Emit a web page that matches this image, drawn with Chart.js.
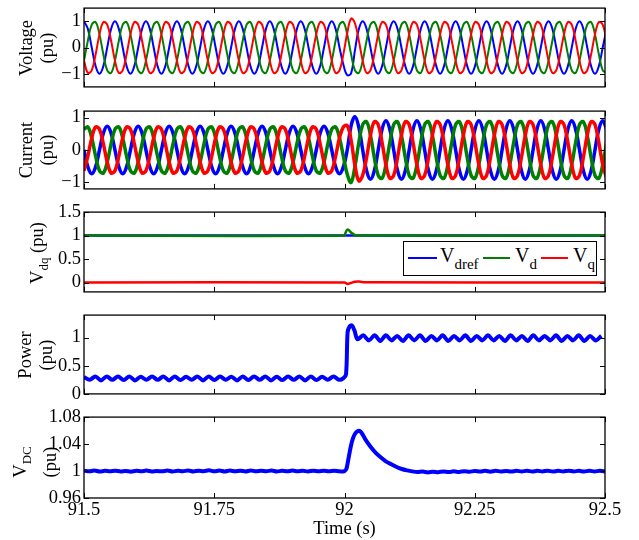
<!DOCTYPE html>
<html>
<head>
<meta charset="utf-8">
<script src="https://cdn.jsdelivr.net/npm/chart.js@4.4.0/dist/chart.umd.min.js"></script>
<style>
  body { margin: 0; background: #fff; }
  #wrap { position: relative; width: 639px; height: 540px; overflow: hidden; font-family: 'Liberation Serif', 'Times New Roman', serif; color: #000; }
  #wrap canvas { position: absolute; left: 0; }
  .ylab { position: absolute; transform: translate(-50%, -50%) rotate(-90deg); white-space: nowrap; text-align: center; font-size: 18.5px; line-height: 21px; }
  .ylab sub { font-size: 13px; vertical-align: baseline; position: relative; top: 5px; }
  #legend { position: absolute; left: 403px; top: 241px; width: 192px; height: 33px; border: 1px solid #000; background: #fff; }
  #legend .ln { position: absolute; top: 15px; height: 0; border-top: 2px solid; }
  #legend .tx { position: absolute; top: 3px; font-size: 20px; line-height: 20px; white-space: nowrap; }
  #legend .tx sub { font-size: 15px; vertical-align: baseline; position: relative; top: 7px; }
</style>
</head>
<body>
<div id="wrap">
  <canvas id="cVolt" width="639" height="107" style="top:-6px"></canvas>
  <canvas id="cCur" width="639" height="106" style="top:97px"></canvas>
  <canvas id="cVdq" width="639" height="108" style="top:198px"></canvas>
  <canvas id="cPow" width="639" height="107" style="top:301px"></canvas>
  <canvas id="cVdc" width="639" height="137" style="top:403px"></canvas>

  <div class="ylab" style="left:37px; top:48px">Voltage<br>(pu)</div>
  <div class="ylab" style="left:37px; top:150px">Current<br>(pu)</div>
  <div class="ylab" style="left:38px; top:253px">V<sub>dq</sub> (pu)</div>
  <div class="ylab" style="left:36px; top:355px">Power<br>(pu)</div>
  <div class="ylab" style="left:35px; top:462px; line-height:29px">V<sub>DC</sub><br>(pu)</div>

  <div id="legend">
    <span class="ln" style="left:4px; width:29px; border-color:#0000ff"></span>
    <span class="tx" style="left:36px">V<sub>dref</sub></span>
    <span class="ln" style="left:79px; width:27px; border-color:#008000"></span>
    <span class="tx" style="left:111px">V<sub>d</sub></span>
    <span class="ln" style="left:137px; width:27px; border-color:#ff0000"></span>
    <span class="tx" style="left:169px">V<sub>q</sub></span>
  </div>
</div>
<script>
// eixo do tempo
const timeTicks = [91.5, 91.75, 92, 92.25, 92.5];
const WAVE_T0 = 91.5;
const WAVE_DT = 0.00743;   // passo de amostragem das ondas (1/8 de ciclo)

// tensões trifásicas (pu), uma linha por ciclo
const voltA = [
  1, 0.71, 0, -0.71, -1, -0.71, 0, 0.71,
  1, 0.71, 0, -0.71, -1, -0.71, 0, 0.71,
  1, 0.71, 0, -0.71, -1, -0.71, 0, 0.71,
  1, 0.71, 0, -0.71, -1, -0.71, 0, 0.71,
  1, 0.71, 0, -0.71, -1, -0.71, 0, 0.71,
  1, 0.71, 0, -0.71, -1, -0.71, 0, 0.71,
  1, 0.71, 0, -0.71, -1, -0.71, 0, 0.71,
  1, 0.71, 0, -0.71, -1, -0.71, 0, 0.71,
  1, 0.71, 0, -0.65, -1.05, -0.98, -0.1, 0.7,
  1, 0.71, 0, -0.71, -1, -0.71, 0, 0.71,
  1, 0.71, 0, -0.71, -1, -0.71, 0, 0.71,
  1, 0.71, 0, -0.71, -1, -0.71, 0, 0.71,
  1, 0.71, 0, -0.71, -1, -0.71, 0, 0.71,
  1, 0.71, 0, -0.71, -1, -0.71, 0, 0.71,
  1, 0.71, 0, -0.71, -1, -0.71, 0, 0.71,
  1, 0.71, 0, -0.71, -1, -0.71, 0, 0.71,
  1, 0.71, 0, -0.71, -1, -0.71, 0, 0.71
];
const voltB = [
  -0.5, 0.26, 0.87, 0.97, 0.5, -0.26, -0.87, -0.97,
  -0.5, 0.26, 0.87, 0.97, 0.5, -0.26, -0.87, -0.97,
  -0.5, 0.26, 0.87, 0.97, 0.5, -0.26, -0.87, -0.97,
  -0.5, 0.26, 0.87, 0.97, 0.5, -0.26, -0.87, -0.97,
  -0.5, 0.26, 0.87, 0.97, 0.5, -0.26, -0.87, -0.97,
  -0.5, 0.26, 0.87, 0.97, 0.5, -0.26, -0.87, -0.97,
  -0.5, 0.26, 0.87, 0.97, 0.5, -0.26, -0.87, -0.97,
  -0.5, 0.26, 0.87, 0.97, 0.5, -0.26, -0.87, -0.97,
  -0.5, 0.26, 0.87, 0.97, 0.5, -0.26, -0.87, -0.97,
  -0.5, 0.26, 0.87, 0.97, 0.5, -0.26, -0.87, -0.97,
  -0.5, 0.26, 0.87, 0.97, 0.5, -0.26, -0.87, -0.97,
  -0.5, 0.26, 0.87, 0.97, 0.5, -0.26, -0.87, -0.97,
  -0.5, 0.26, 0.87, 0.97, 0.5, -0.26, -0.87, -0.97,
  -0.5, 0.26, 0.87, 0.97, 0.5, -0.26, -0.87, -0.97,
  -0.5, 0.26, 0.87, 0.97, 0.5, -0.26, -0.87, -0.97,
  -0.5, 0.26, 0.87, 0.97, 0.5, -0.26, -0.87, -0.97,
  -0.5, 0.26, 0.87, 0.97, 0.5, -0.26, -0.87, -0.97
];
const voltC = [
  -0.5, -0.97, -0.87, -0.26, 0.5, 0.97, 0.87, 0.26,
  -0.5, -0.97, -0.87, -0.26, 0.5, 0.97, 0.87, 0.26,
  -0.5, -0.97, -0.87, -0.26, 0.5, 0.97, 0.87, 0.26,
  -0.5, -0.97, -0.87, -0.26, 0.5, 0.97, 0.87, 0.26,
  -0.5, -0.97, -0.87, -0.26, 0.5, 0.97, 0.87, 0.26,
  -0.5, -0.97, -0.87, -0.26, 0.5, 0.97, 0.87, 0.26,
  -0.5, -0.97, -0.87, -0.26, 0.5, 0.97, 0.87, 0.26,
  -0.5, -0.97, -0.87, -0.26, 0.5, 0.97, 0.87, 0.26,
  -0.5, -0.97, -0.87, -0.26, 0.55, 1.1, 0.92, 0.26,
  -0.5, -0.97, -0.87, -0.26, 0.5, 0.97, 0.87, 0.26,
  -0.5, -0.97, -0.87, -0.26, 0.5, 0.97, 0.87, 0.26,
  -0.5, -0.97, -0.87, -0.26, 0.5, 0.97, 0.87, 0.26,
  -0.5, -0.97, -0.87, -0.26, 0.5, 0.97, 0.87, 0.26,
  -0.5, -0.97, -0.87, -0.26, 0.5, 0.97, 0.87, 0.26,
  -0.5, -0.97, -0.87, -0.26, 0.5, 0.97, 0.87, 0.26,
  -0.5, -0.97, -0.87, -0.26, 0.5, 0.97, 0.87, 0.26,
  -0.5, -0.97, -0.87, -0.26, 0.5, 0.97, 0.87, 0.26
];

// correntes trifásicas (pu): amplitude sobe em 92 s
const curA = [
  0, -0.52, -0.73, -0.52, 0, 0.52, 0.73, 0.52,
  0, -0.52, -0.73, -0.52, 0, 0.52, 0.73, 0.52,
  0, -0.52, -0.73, -0.52, 0, 0.52, 0.73, 0.52,
  0, -0.52, -0.73, -0.52, 0, 0.52, 0.73, 0.52,
  0, -0.52, -0.73, -0.52, 0, 0.52, 0.73, 0.52,
  0, -0.52, -0.73, -0.52, 0, 0.52, 0.73, 0.52,
  0, -0.52, -0.73, -0.52, 0, 0.52, 0.73, 0.52,
  0, -0.52, -0.73, -0.52, 0, 0.52, 0.73, 0.52,
  0, -0.52, -0.73, -0.52, 0, 0.75, 1.03, 0.7,
  0, -0.64, -0.9, -0.64, 0, 0.64, 0.9, 0.64,
  0, -0.64, -0.9, -0.64, 0, 0.64, 0.9, 0.64,
  0, -0.64, -0.9, -0.64, 0, 0.64, 0.9, 0.64,
  0, -0.64, -0.9, -0.64, 0, 0.64, 0.9, 0.64,
  0, -0.64, -0.9, -0.64, 0, 0.64, 0.9, 0.64,
  0, -0.64, -0.9, -0.64, 0, 0.64, 0.9, 0.64,
  0, -0.64, -0.9, -0.64, 0, 0.64, 0.9, 0.64,
  0, -0.64, -0.9, -0.64, 0, 0.64, 0.9, 0.64
];
const curB = [
  0.64, 0.71, 0.37, -0.19, -0.64, -0.71, -0.37, 0.19,
  0.64, 0.71, 0.37, -0.19, -0.64, -0.71, -0.37, 0.19,
  0.64, 0.71, 0.37, -0.19, -0.64, -0.71, -0.37, 0.19,
  0.64, 0.71, 0.37, -0.19, -0.64, -0.71, -0.37, 0.19,
  0.64, 0.71, 0.37, -0.19, -0.64, -0.71, -0.37, 0.19,
  0.64, 0.71, 0.37, -0.19, -0.64, -0.71, -0.37, 0.19,
  0.64, 0.71, 0.37, -0.19, -0.64, -0.71, -0.37, 0.19,
  0.64, 0.71, 0.37, -0.19, -0.64, -0.71, -0.37, 0.19,
  0.64, 0.71, 0.37, -0.19, -0.75, -1.0, -0.5, 0.23,
  0.78, 0.87, 0.45, -0.23, -0.78, -0.87, -0.45, 0.23,
  0.78, 0.87, 0.45, -0.23, -0.78, -0.87, -0.45, 0.23,
  0.78, 0.87, 0.45, -0.23, -0.78, -0.87, -0.45, 0.23,
  0.78, 0.87, 0.45, -0.23, -0.78, -0.87, -0.45, 0.23,
  0.78, 0.87, 0.45, -0.23, -0.78, -0.87, -0.45, 0.23,
  0.78, 0.87, 0.45, -0.23, -0.78, -0.87, -0.45, 0.23,
  0.78, 0.87, 0.45, -0.23, -0.78, -0.87, -0.45, 0.23,
  0.78, 0.87, 0.45, -0.23, -0.78, -0.87, -0.45, 0.23
];
const curC = [
  -0.64, -0.19, 0.37, 0.71, 0.64, 0.19, -0.37, -0.71,
  -0.64, -0.19, 0.37, 0.71, 0.64, 0.19, -0.37, -0.71,
  -0.64, -0.19, 0.37, 0.71, 0.64, 0.19, -0.37, -0.71,
  -0.64, -0.19, 0.37, 0.71, 0.64, 0.19, -0.37, -0.71,
  -0.64, -0.19, 0.37, 0.71, 0.64, 0.19, -0.37, -0.71,
  -0.64, -0.19, 0.37, 0.71, 0.64, 0.19, -0.37, -0.71,
  -0.64, -0.19, 0.37, 0.71, 0.64, 0.19, -0.37, -0.71,
  -0.64, -0.19, 0.37, 0.71, 0.64, 0.19, -0.37, -0.71,
  -0.64, -0.19, 0.37, 0.71, 0.75, 0.3, -0.48, -0.95,
  -0.78, -0.23, 0.45, 0.87, 0.78, 0.23, -0.45, -0.87,
  -0.78, -0.23, 0.45, 0.87, 0.78, 0.23, -0.45, -0.87,
  -0.78, -0.23, 0.45, 0.87, 0.78, 0.23, -0.45, -0.87,
  -0.78, -0.23, 0.45, 0.87, 0.78, 0.23, -0.45, -0.87,
  -0.78, -0.23, 0.45, 0.87, 0.78, 0.23, -0.45, -0.87,
  -0.78, -0.23, 0.45, 0.87, 0.78, 0.23, -0.45, -0.87,
  -0.78, -0.23, 0.45, 0.87, 0.78, 0.23, -0.45, -0.87,
  -0.78, -0.23, 0.45, 0.87, 0.78, 0.23, -0.45, -0.87
];

// Vdq
const vdTime = [91.5, 92.0, 92.002, 92.005, 92.008, 92.012, 92.017, 92.022, 92.5];
const vdValues = [1, 1, 1.06, 1.12, 1.12, 1.07, 1.03, 1.0, 1.0];
const vdrefValues = [1, 1, 1, 1, 1, 1, 1, 1, 1];
const vqTime = [91.5, 92.0, 92.006, 92.012, 92.02, 92.028, 92.04, 92.5];
const vqValues = [0, 0, -0.03, -0.01, 0.015, 0.02, 0.005, 0];

// potência (pu): picos e vales da ondulação
const POWER_DT = 0.01088;
const powerPre = [
  0.3, 0.25, 0.31, 0.24, 0.31, 0.25, 0.31, 0.245, 0.31, 0.24,
  0.305, 0.25, 0.31, 0.25, 0.31, 0.24, 0.31, 0.245, 0.305, 0.25,
  0.31, 0.24, 0.31, 0.245, 0.31, 0.25, 0.305, 0.24, 0.31, 0.245,
  0.31, 0.25, 0.31, 0.24, 0.305, 0.245, 0.31, 0.25, 0.31, 0.24,
  0.31, 0.245, 0.305, 0.25, 0.31, 0.25
];
const powerStepTime = [91.998, 92.003, 92.006, 92.01, 92.014, 92.019, 92.025];
const powerStepValues = [0.28, 0.35, 1.1, 1.2, 1.22, 1.13, 0.97];
const powerPost = [
  1.04, 0.95, 1.04, 0.94, 1.04, 0.95, 1.03, 0.94, 1.04, 0.95,
  1.04, 0.94, 1.03, 0.95, 1.04, 0.94, 1.03, 0.95, 1.04, 0.94,
  1.03, 0.95, 1.04, 0.95, 1.03, 0.94, 1.04, 0.95, 1.03, 0.94,
  1.04, 0.95, 1.03, 0.95, 1.04, 0.94, 1.03, 0.95, 1.04, 0.94,
  1.03, 0.95, 1.03
];

// tensão do barramento CC (pu)
const VDC_DT = 0.01;
const vdcPre = [
  1.0005, 0.9995, 1.0008, 0.9992, 1.0003, 0.9996, 1.0006, 0.9994, 1.0002, 0.9991,
  1.0004, 0.9997, 1.0007, 0.9993, 1.0001, 0.9995, 1.0008, 0.9992, 1.0005, 0.9996,
  1.0009, 0.9994, 1.0006, 0.9997, 1.001, 0.9995, 1.0007, 0.9993, 1.0008, 0.9996,
  1.0005, 0.9994, 1.0009, 0.9995, 1.0006, 0.9997, 1.0008, 0.9993, 1.0004, 0.9995,
  1.0007, 0.9996, 1.0005, 0.9993, 1.0006, 0.9995, 1.0004, 0.9996, 1.0005, 0.9995
];
const vdcBumpTime = [92.0, 92.004, 92.008, 92.012, 92.016, 92.02, 92.025, 92.03, 92.035, 92.04,
  92.05, 92.06, 92.07, 92.08, 92.09, 92.1, 92.11, 92.12, 92.13];
const vdcBumpValues = [1.0, 1.004, 1.02, 1.036, 1.048, 1.055, 1.059, 1.059, 1.054, 1.047,
  1.036, 1.027, 1.02, 1.014, 1.01, 1.006, 1.003, 1.001, 0.9995];
const vdcPost = [
  0.9985, 0.9992, 0.998, 0.999, 0.9983, 0.9993, 0.9985, 0.9995, 0.9987, 0.9996,
  0.9989, 1.0001, 0.9992, 1.0003, 0.9991, 1.0004, 0.9993, 1.0002, 0.9992, 1.0004,
  0.9993, 1.0005, 0.9992, 1.0003, 0.9994, 1.0005, 0.9992, 1.0004, 0.9993, 1.0006,
  0.9994, 1.0003, 0.9992, 1.0005, 0.9993, 1.0004, 0.9994
];

const BLUE = '#0000ff', GREEN = '#008000', RED = '#ff0000';
const TICK_LEN = 5;
const tickFont = { family: "'Liberation Serif', 'Times New Roman', serif", size: 18.5 };

const series = (t0, dt, vals) => vals.map((v, i) => ({ x: t0 + i * dt, y: v }));
const pairs = (ts, vals) => ts.map((t, i) => ({ x: t, y: vals[i] }));

// caixa e marcas de escala para dentro, estilo MATLAB
const matlabBox = {
  id: 'matlabBox',
  afterDatasetsDraw(chart, args, opts) {
    const { ctx, chartArea: a, scales: { x, y } } = chart;
    ctx.save();
    ctx.strokeStyle = '#000';
    ctx.lineWidth = 1;
    ctx.beginPath();
    timeTicks.forEach(v => {
      const px = Math.round(x.getPixelForValue(v)) + 0.5;
      ctx.moveTo(px, a.top); ctx.lineTo(px, a.top + TICK_LEN);
      ctx.moveTo(px, a.bottom); ctx.lineTo(px, a.bottom - TICK_LEN);
    });
    opts.yTicks.forEach(v => {
      const py = Math.round(y.getPixelForValue(v)) + 0.5;
      ctx.moveTo(a.left, py); ctx.lineTo(a.left + TICK_LEN, py);
      ctx.moveTo(a.right, py); ctx.lineTo(a.right - TICK_LEN, py);
    });
    ctx.stroke();
    ctx.lineWidth = 1.3;
    ctx.strokeRect(a.left, a.top, a.right - a.left, a.bottom - a.top);
    ctx.restore();
  }
};

function line(data, color, width, order, tension) {
  return { data, borderColor: color, borderWidth: width, order, tension, pointRadius: 0, fill: false };
}

function panel(id, datasets, yMin, yMax, yTicks, lastPanel) {
  return new Chart(document.getElementById(id), {
    type: 'line',
    data: { datasets },
    options: {
      responsive: false,
      animation: false,
      events: [],
      layout: { padding: { top: 12, bottom: lastPanel ? 0 : 12, left: 0, right: 34 } },
      scales: {
        x: {
          type: 'linear', min: 91.5, max: 92.5,
          display: lastPanel,
          afterBuildTicks: s => { s.ticks = timeTicks.map(v => ({ value: v })); },
          afterFit: s => { if (lastPanel) s.height = 42; },
          grid: { display: false, drawTicks: false },
          border: { display: false },
          ticks: { color: '#000', font: tickFont, padding: 1, maxRotation: 0, autoSkip: false,
                   callback: v => String(v) },
          title: { display: true, text: 'Time (s)', color: '#000', font: tickFont, padding: 0 }
        },
        y: {
          min: yMin, max: yMax,
          afterBuildTicks: s => { s.ticks = yTicks.map(v => ({ value: v })); },
          afterFit: s => { s.width = 84; },
          grid: { display: false, drawTicks: false },
          border: { display: false },
          ticks: { color: '#000', font: tickFont, padding: 3, autoSkip: false,
                   callback: v => v < 0 ? '\u2212' + Math.abs(v) : String(v) }
        }
      },
      plugins: { legend: { display: false }, tooltip: { enabled: false }, matlabBox: { yTicks } }
    },
    plugins: [matlabBox]
  });
}

panel('cVolt', [
  line(series(WAVE_T0, WAVE_DT, voltA), BLUE, 2, 3, 0.4),
  line(series(WAVE_T0, WAVE_DT, voltB), GREEN, 2, 2, 0.4),
  line(series(WAVE_T0, WAVE_DT, voltC), RED, 2, 1, 0.4)
], -1.5, 1.5, [-1, 0, 1], false);

panel('cCur', [
  line(series(WAVE_T0, WAVE_DT, curA), BLUE, 3.5, 3, 0.4),
  line(series(WAVE_T0, WAVE_DT, curB), GREEN, 3.5, 2, 0.4),
  line(series(WAVE_T0, WAVE_DT, curC), RED, 3.5, 1, 0.4)
], -1.2, 1.2, [-1, 0, 1], false);

panel('cVdq', [
  line(pairs(vdTime, vdrefValues), BLUE, 2.5, 3, 0),
  line(pairs(vdTime, vdValues), GREEN, 2.5, 2, 0.3),
  line(pairs(vqTime, vqValues), RED, 2.5, 1, 0.3)
], -0.2, 1.5, [0, 0.5, 1, 1.5], false);

panel('cPow', [
  line([...series(91.5, POWER_DT, powerPre), ...pairs(powerStepTime, powerStepValues),
        ...series(92.036, POWER_DT, powerPost)], BLUE, 4, 1, 0.3)
], 0, 1.4, [0, 0.5, 1], false);

panel('cVdc', [
  line([...series(91.5, VDC_DT, vdcPre), ...pairs(vdcBumpTime, vdcBumpValues),
        ...series(92.14, VDC_DT, vdcPost)], BLUE, 4, 1, 0.2)
], 0.96, 1.08, [0.96, 1, 1.04, 1.08], true);
</script>
</body>
</html>
